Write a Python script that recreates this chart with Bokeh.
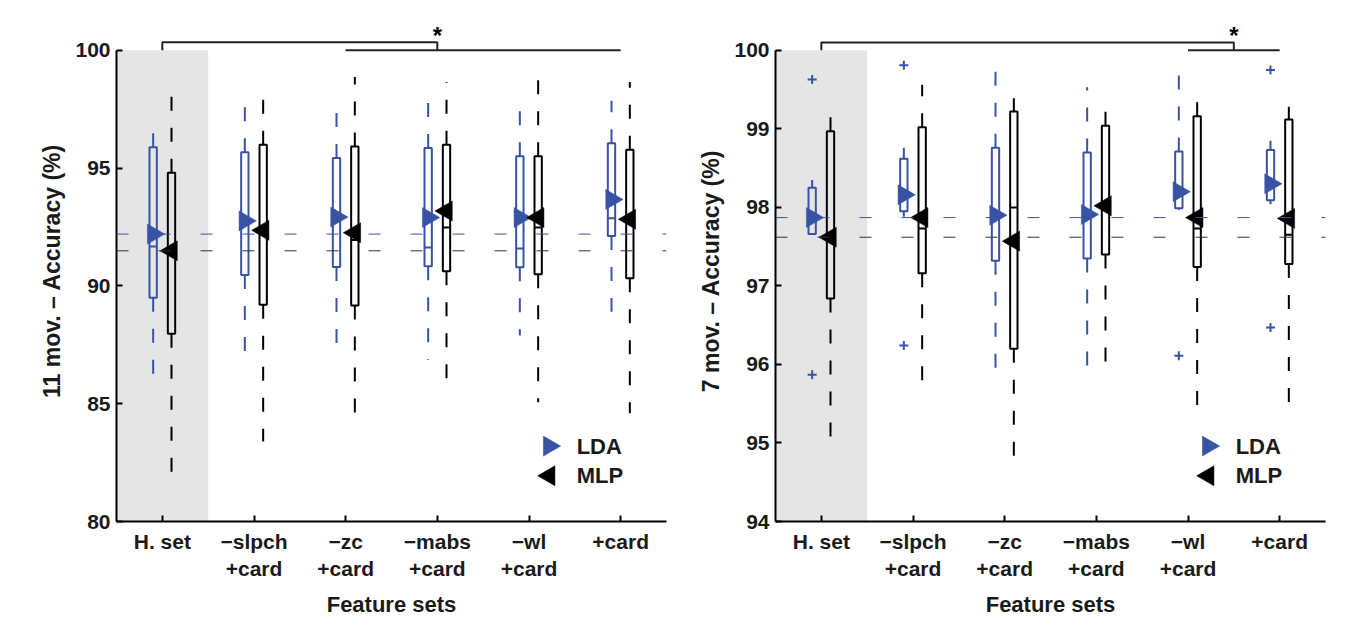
import math
from bokeh.plotting import figure
from bokeh.models import Range1d, FixedTicker, BoxAnnotation, Span
from bokeh.layouts import row
from bokeh.core.properties import value
from bokeh.embed import file_html
from bokeh.resources import INLINE

# ---------------- data ----------------
categories = ["H. set", "\u2212slpch\n+card", "\u2212zc\n+card", "\u2212mabs\n+card", "\u2212wl\n+card", "+card"]

# 11 movements
lda11_wlo = [85.7, 86.8, 87.4, 86.85, 87.9, 88.9]
lda11_q1 = [89.5, 90.46, 90.8, 90.83, 90.79, 92.12]
lda11_med = [91.67, 92.6, 92.9, 91.63, 91.59, 92.87]
lda11_q3 = [95.89, 95.67, 95.43, 95.85, 95.5, 96.06]
lda11_whi = [96.98, 97.78, 97.68, 97.99, 97.82, 97.86]
lda11_mean = [92.2, 92.76, 92.92, 92.9, 92.9, 93.67]

mlp11_wlo = [81.55, 83.4, 84.04, 85.44, 85.06, 84.6]
mlp11_q1 = [87.97, 89.2, 89.17, 90.62, 90.5, 90.33]
mlp11_med = [91.4, 92.3, 91.95, 92.48, 92.48, 92.75]
mlp11_q3 = [94.8, 95.99, 95.92, 95.99, 95.5, 95.78]
mlp11_whi = [98.59, 98.34, 98.87, 98.66, 98.73, 98.66]
mlp11_mean = [91.49, 92.36, 92.26, 93.18, 92.9, 92.83]

lda11_out_cat = []
lda11_out_val = []

# 7 movements
lda7_wlo = [97.65, 97.88, 95.76, 95.92, 97.97, 98.04]
lda7_q1 = [97.66, 97.95, 97.32, 97.35, 97.99, 98.09]
lda7_med = [97.9, 98.15, 97.9, 97.9, 98.2, 98.3]
lda7_q3 = [98.25, 98.62, 98.76, 98.7, 98.71, 98.73]
lda7_whi = [98.35, 98.76, 99.86, 99.53, 99.76, 98.85]
lda7_mean = [97.87, 98.16, 97.9, 97.91, 98.2, 98.3]

mlp7_wlo = [94.98, 95.76, 94.79, 95.85, 95.37, 95.51]
mlp7_q1 = [96.84, 97.16, 96.2, 97.4, 97.24, 97.28]
mlp7_med = [97.6, 97.73, 98.0, 98.0, 97.73, 97.65]
mlp7_q3 = [98.97, 99.02, 99.22, 99.04, 99.16, 99.12]
mlp7_whi = [99.2, 99.56, 99.39, 99.33, 99.5, 99.28]
mlp7_mean = [97.62, 97.87, 97.57, 98.02, 97.87, 97.86]

lda7_out_cat = [0, 0, 1, 1, 4, 5, 5]
lda7_out_val = [99.63, 95.87, 99.81, 96.24, 96.11, 99.75, 96.47]

# significance brackets: (from category, to category, level), lower line (from, to, level)
sig11_upper = (0, 3, 100.34)
sig11_lower = (2, 5, 100.0)
sig7_upper = (0, 4.5, 100.10)
sig7_lower = (4, 5, 100.0)

yticks11 = [80, 85, 90, 95, 100]
yticks7 = [94, 95, 96, 97, 98, 99, 100]

legend_labels = ["LDA", "MLP"]

# ---------------- style ----------------
BLUE = "#3953a4"
FONT = "Liberation Sans"
OFF = 0.1
HALF = 0.04
LEG_X = 4.22          # legend marker position (category units)
LEG_TX = 4.52         # legend text start
LEG_FRAC = [0.160, 0.097]  # legend rows, fraction of the y axis span


def draw_group(p, xs, wlo, q1, med, q3, whi, color):
    p.segment(x0=xs, y0=q3, x1=xs, y1=whi, line_color=color, line_width=2, line_dash="14 17")
    p.segment(x0=xs, y0=q1, x1=xs, y1=wlo, line_color=color, line_width=2, line_dash="14 17")
    left = [x - HALF for x in xs]
    right = [x + HALF for x in xs]
    p.quad(left=left, right=right, bottom=q1, top=q3, fill_alpha=0, line_color=color, line_width=2)
    p.segment(x0=left, y0=med, x1=right, y1=med, line_color=color, line_width=2)


def make_panel(ylabel, ymin, ymax, ytop, yticks, lda, mlp, out_cat, out_val, sig_up, sig_low, mbl, mbr):
    p = figure(width=671, height=620, output_backend="svg", toolbar_location=None,
               x_range=Range1d(-0.5, 5.5), y_range=Range1d(ymin, ytop),
               min_border_left=mbl, min_border_right=mbr, min_border_top=20, min_border_bottom=96)
    p.outline_line_color = None
    p.grid.visible = False
    p.background_fill_color = "white"

    p.add_layout(BoxAnnotation(left=-0.5, right=0.5, bottom=ymin, top=ymax,
                               fill_color="#e5e5e5", fill_alpha=1.0, line_color=None, level="underlay"))

    p.add_layout(Span(location=lda[5][0], dimension="width", line_color=BLUE, line_width=1,
                      line_dash="12 30"))
    p.add_layout(Span(location=mlp[5][0], dimension="width", line_color="#333333", line_width=1,
                      line_dash="12 30"))

    n = len(categories)
    xl = [i - OFF for i in range(n)]
    xm = [i + OFF for i in range(n)]
    draw_group(p, xl, *lda[:5], BLUE)
    draw_group(p, xm, *mlp[:5], "black")

    if out_cat:
        p.scatter(x=[c - OFF for c in out_cat], y=out_val, marker="cross", size=9,
                  line_color=BLUE, line_width=2)

    p.scatter(x=xl, y=lda[5], marker="triangle", size=20, angle=-math.pi / 2,
              fill_color=BLUE, line_color=BLUE, line_width=0.5)
    p.scatter(x=xm, y=mlp[5], marker="triangle", size=20, angle=math.pi / 2,
              fill_color="black", line_color="black", line_width=0.5)

    # significance bracket
    a, b, lev = sig_up
    c, d, lev2 = sig_low
    p.line(x=[a, a, b, b], y=[lev2, lev, lev, lev2], line_color="#222222", line_width=2)
    p.line(x=[c, d], y=[lev2, lev2], line_color="#222222", line_width=2)
    p.text(x=[b], y=[lev], text=["*"], text_font_size="24px", text_font_style="bold",
           text_align="center", text_baseline="alphabetic", y_offset=-7, text_color="black",
           text_font=value(FONT))

    # legend (markers rotated like the plotted means)
    ly = [ymin + f * (ymax - ymin) for f in LEG_FRAC]
    p.scatter(x=[LEG_X], y=[ly[0]], marker="triangle", size=20, angle=-math.pi / 2,
              fill_color=BLUE, line_color=BLUE, line_width=0.5)
    p.scatter(x=[LEG_X], y=[ly[1]], marker="triangle", size=20, angle=math.pi / 2,
              fill_color="black", line_color="black", line_width=0.5)
    p.text(x=[LEG_TX, LEG_TX], y=ly, text=legend_labels, text_font=value(FONT), text_font_size="22px",
           text_font_style="bold", text_align="left", text_baseline="middle", text_color="#1a1a1a")

    # axes
    ax = p.xaxis[0]
    ax.ticker = FixedTicker(ticks=list(range(n)))
    ax.major_label_overrides = {i: categories[i] for i in range(n)}
    ax.minor_tick_line_color = None
    ax.major_tick_in = 6
    ax.major_tick_out = 0
    ax.major_tick_line_width = 2
    ax.axis_line_width = 2
    ax.major_label_text_font = FONT
    ax.major_label_text_font_size = "21px"
    ax.major_label_text_font_style = "bold"
    ax.major_label_text_color = "#1a1a1a"
    ax.major_label_standoff = 8
    ax.axis_label = "Feature sets"
    ax.axis_label_text_font = FONT
    ax.axis_label_text_font_size = "22px"
    ax.axis_label_text_font_style = "bold"
    ax.axis_label_text_color = "#1a1a1a"
    ax.axis_label_standoff = 9

    ay = p.yaxis[0]
    ay.ticker = FixedTicker(ticks=yticks)
    ay.bounds = (ymin, ymax)
    ay.minor_tick_line_color = None
    ay.major_tick_in = 6
    ay.major_tick_out = 0
    ay.major_tick_line_width = 2
    ay.axis_line_width = 2
    ay.major_label_text_font = FONT
    ay.major_label_text_font_size = "21px"
    ay.major_label_text_font_style = "bold"
    ay.major_label_text_color = "#1a1a1a"
    ay.major_label_standoff = 6
    ay.axis_label = ylabel
    ay.axis_label_text_font = FONT
    ay.axis_label_text_font_size = "23px"
    ay.axis_label_text_font_style = "bold"
    ay.axis_label_text_color = "#1a1a1a"
    ay.axis_label_standoff = 7
    return p


lda11 = [lda11_wlo, lda11_q1, lda11_med, lda11_q3, lda11_whi, lda11_mean]
mlp11 = [mlp11_wlo, mlp11_q1, mlp11_med, mlp11_q3, mlp11_whi, mlp11_mean]
lda7 = [lda7_wlo, lda7_q1, lda7_med, lda7_q3, lda7_whi, lda7_mean]
mlp7 = [mlp7_wlo, mlp7_q1, mlp7_med, mlp7_q3, mlp7_whi, mlp7_mean]

p1 = make_panel("11 mov. \u2013 Accuracy (%)", 80, 100, 80 + 504 / 23.7, yticks11, lda11, mlp11,
                lda11_out_cat, lda11_out_val, sig11_upper, sig11_lower, 116, 5)
p2 = make_panel("7 mov. \u2013 Accuracy (%)", 94, 100, 94 + 504 / 79.0, yticks7, lda7, mlp7,
                lda7_out_cat, lda7_out_val, sig7_upper, sig7_lower, 104, 17)

layout = row(p1, p2)
open("out.html", "w").write(file_html(layout, INLINE))
